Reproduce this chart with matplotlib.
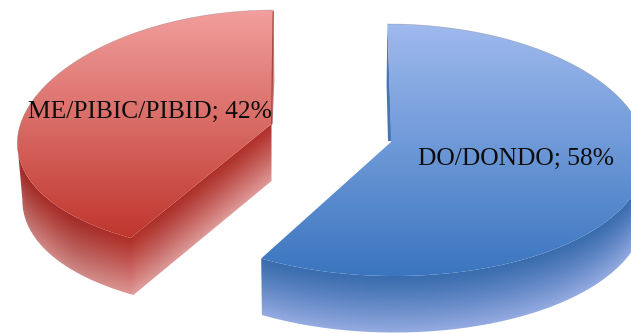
import numpy as np
import matplotlib
matplotlib.use('Agg')
from matplotlib import pyplot as plt
from matplotlib.path import Path
from matplotlib.patches import PathPatch, Polygon

categories = ['DO/DONDO', 'ME/PIBIC/PIBID']
shares = [58, 42]

W, H = 631, 333

# slice geometry in pixels: apex, radii, perspective terms, shear, extrusion
blue = dict(cx=391, cy=142, rx=254, ry=125.5, kx=0.09, ky=0.0635, shear=-3.5, depth=56.5, shrink=0.995,
            top=('#9fbaee', '#3a75bf'), wall_dark='#3a6cae', wall_light='#95abe2',
            label_xy=(515.5, 158.5))
red = dict(cx=271.5, cy=124, rx=251, ry=122, kx=0.15, ky=0.071, shear=2.0, depth=57, shrink=0.98,
           top=('#f29f9d', '#bf362d'), wall_dark='#b1302a', wall_light='#e09a98',
           label_xy=(149.5, 111.5))


def rgb(c):
    return np.array(matplotlib.colors.to_rgb(c))


def rim(s, a0, a1, n=400):
    # a0, a1 are clockwise from 12 o'clock, in degrees
    t = np.radians(np.linspace(a0, a1, n))
    X, Y = np.sin(t), np.cos(t)
    x = s['cx'] + s['rx'] * X / (1 + s['kx'] * Y) + s['shear'] * Y
    y = s['cy'] - s['ry'] * Y / (1 + s['ky'] * Y)
    return np.column_stack([x, y])


def lower(s, pts):
    # the same outline carried down to the bottom of the slab
    out = pts.copy()
    out[:, 0] = s['cx'] + (pts[:, 0] - s['cx']) * s['shrink']
    out[:, 1] = pts[:, 1] + s['depth']
    return out


def closed(pts):
    codes = [Path.MOVETO] + [Path.LINETO] * (len(pts) - 1) + [Path.CLOSEPOLY]
    return Path(np.vstack([pts, pts[0]]), codes)


def paint(ax, img, pts, z):
    patch = PathPatch(closed(pts), fc='none', ec='none', transform=ax.transData)
    ax.add_patch(patch)
    im = ax.imshow(img, extent=(0, W, H, 0), zorder=z, interpolation='bilinear')
    im.set_clip_path(patch)


def top_face(ax, s, pts, z):
    y0, y1 = pts[:, 1].min(), pts[:, 1].max()
    t = np.clip((np.arange(H) + 0.5 - y0) / (y1 - y0), 0, 1)[:, None, None]
    img = rgb(s['top'][0]) * (1 - t) + rgb(s['top'][1]) * t
    paint(ax, np.repeat(img, W, axis=1), pts, z)


def wall(ax, s, edge, z, side=None):
    # edge runs along the upper rim; shade each column downward from it
    order = np.argsort(edge[:, 0])
    xx = np.arange(W) + 0.5
    top_y = np.interp(xx, edge[order, 0], edge[order, 1])
    yy = (np.arange(H) + 0.5)[:, None]
    t = np.clip((yy - top_y[None, :]) / s['depth'], 0, 1)[..., None] ** 1.15
    img = rgb(s['wall_dark']) * (1 - t) + rgb(s['wall_light']) * t
    if side is not None:
        img = img * side(xx)[None, :, None]
    paint(ax, np.clip(img, 0, 1), np.vstack([edge, lower(s, edge)[::-1]]), z)


fig = plt.figure(figsize=(W / 100, H / 100), dpi=100)
ax = fig.add_axes([0, 0, 1, 1])

a_split = 360 * shares[0] / sum(shares)

# blue slice, clockwise from 12 o'clock
arc_b = rim(blue, 0, a_split)
apex_b = np.array([[blue['cx'], blue['cy']]])
wall(ax, blue, rim(blue, 82, a_split), 1)
ax.add_patch(Polygon([(387.4, 24), (386.6, 85), (388, 141), (391.5, 141)], fc='#4675b6', ec='none', zorder=1))
top_face(ax, blue, np.vstack([apex_b, arc_b]), 2)
ax.plot(*rim(blue, 0, 95).T, color='#777777', lw=0.5, alpha=0.4, zorder=2.1)

# red slice, the rest of the way round
arc_r = rim(red, a_split, 360)
apex_r = np.array([[red['cx'], red['cy']]])
a_all = np.linspace(a_split, 360, 400)
a_left = a_all[np.argmin(arc_r[:, 0])]
tip = arc_r[0]
# outer curve and cut face share one wall so no seam shows at the tip
edge_r = np.vstack([rim(red, a_left, a_split), np.linspace(tip, apex_r[0], 120)[1:]])
wall(ax, red, edge_r, 1,
     side=lambda x: np.interp(x, [17, 45, 75, 135, 160, 272], [0.88, 0.95, 0.92, 1.0, 0.97, 1.0]))
ax.add_patch(Polygon([(273.6, 10), (274.4, 80), (272.6, 124), (271, 124)], fc='#c98a88', ec='none', zorder=1))
top_face(ax, red, np.vstack([apex_r, arc_r]), 2)
ax.plot([273.2, 271.6], [12, 124], color='#a24744', lw=0.9, zorder=2.2)
ax.plot(*rim(red, a_left, 360).T, color='#777777', lw=0.5, alpha=0.4, zorder=2.1)

for s, name, share in zip([blue, red], categories, shares):
    ax.text(*s['label_xy'], f'{name}; {share}%', family='Liberation Serif', fontsize=18.4,
            color='#0d0d0d', ha='center', va='center', zorder=5)

ax.set_xlim(0, W)
ax.set_ylim(H, 0)
ax.set_aspect('auto')
ax.axis('off')
fig.savefig('out.png', dpi=100)
